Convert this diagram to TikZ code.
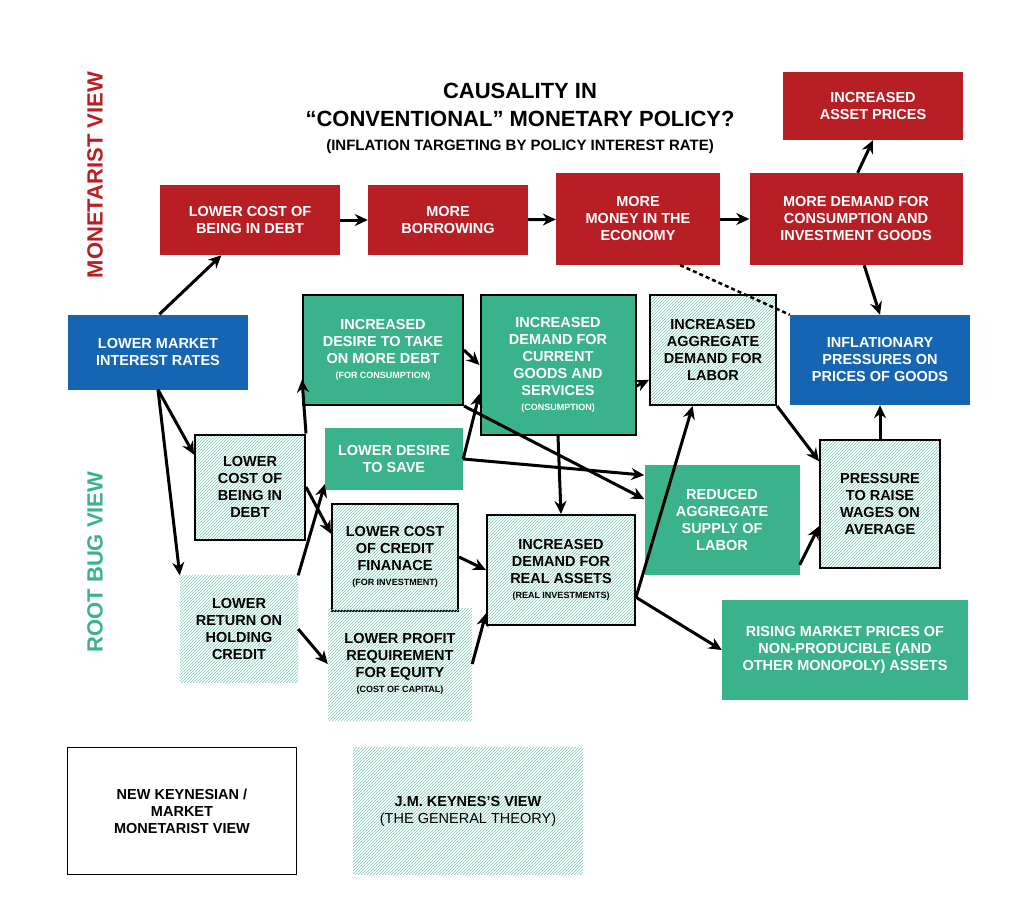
\documentclass[tikz,border=0pt]{standalone}
\usepackage{fontspec}
\setmainfont{Liberation Sans}
\usetikzlibrary{arrows.meta,patterns}
\definecolor{mred}{HTML}{B71F25}
\definecolor{mblue}{HTML}{1565B2}
\definecolor{rgreen}{HTML}{3AB28C}
\definecolor{hgreen}{HTML}{7CCBB1}
\tikzset{
  box/.style={align=center,inner sep=2pt,font=\fontsize{14.5}{17}\selectfont\bfseries},
  redbox/.style={box,fill=mred,text=white},
  bluebox/.style={box,fill=mblue,text=white},
  greenbox/.style={box,fill=rgreen,text=white},
  greenline/.style={greenbox,draw=black,line width=2pt},
  hatch/.style={box,pattern={north east lines},pattern color=hgreen},
  hatchline/.style={hatch,draw=black,line width=2pt},
  arr/.style={-{Stealth[length=13pt,width=12pt]},line width=3pt},
}
\begin{document}
\begin{tikzpicture}[x=1pt,y=-1pt]
  \useasboundingbox (0,0) rectangle (1024,921);
  % title
  \node[box,font=\fontsize{22}{28}\selectfont\bfseries] (title) at (520,105) {CAUSALITY IN\\``CONVENTIONAL'' MONETARY POLICY?};
  \node[box,font=\fontsize{15}{17}\selectfont\bfseries] (subtitle) at (520,147) {(INFLATION TARGETING BY POLICY INTEREST RATE)};
  \node[box,rotate=90,text=mred,font=\fontsize{22}{26}\selectfont\bfseries] (monview) at (95,175) {MONETARIST VIEW};
  \node[box,rotate=90,text=rgreen,font=\fontsize{22}{26}\selectfont\bfseries] (rootview) at (95,562) {ROOT BUG VIEW};
  % monetarist row
  \node[redbox,minimum width=180,minimum height=70] (rcost) at (250,220) {LOWER COST OF\\BEING IN DEBT};
  \node[redbox,minimum width=160,minimum height=70] (borrow) at (448,220) {MORE\\BORROWING};
  \node[redbox,minimum width=164,minimum height=92] (money) at (638,219) {MORE\\MONEY IN THE\\ECONOMY};
  \node[redbox,minimum width=213,minimum height=92] (demand) at (856,219) {MORE DEMAND FOR\\CONSUMPTION AND\\INVESTMENT GOODS};
  \node[redbox,minimum width=180,minimum height=68] (asset) at (873,106) {INCREASED\\ASSET PRICES};
  \node[bluebox,minimum width=180,minimum height=75] (rates) at (158,352) {LOWER MARKET\\INTEREST RATES};
  \node[bluebox,minimum width=180,minimum height=90] (inflation) at (880,360) {INFLATIONARY\\PRESSURES ON\\PRICES OF GOODS};
  % root bug view
  \node[greenline,minimum width=160,minimum height=110] (desire) at (383,350) {INCREASED\\DESIRE TO TAKE\\ON MORE DEBT\\[-2pt]{\fontsize{9}{11}\selectfont (FOR CONSUMPTION)}};
  \node[greenline,minimum width=155,minimum height=140] (current) at (558,365) {INCREASED\\DEMAND FOR\\CURRENT\\GOODS AND\\SERVICES\\[-2pt]{\fontsize{9}{11}\selectfont (CONSUMPTION)}};
  \node[hatchline,minimum width=126,minimum height=110] (labor) at (713,350) {INCREASED\\AGGREGATE\\DEMAND FOR\\LABOR};
  \node[hatchline,minimum width=110,minimum height=105] (hcost) at (250,487) {LOWER\\COST OF\\BEING IN\\DEBT};
  \node[greenbox,minimum width=138,minimum height=62] (save) at (394,459) {LOWER DESIRE\\TO SAVE};
  \node[greenbox,minimum width=155,minimum height=110] (supply) at (722,520) {REDUCED\\AGGREGATE\\SUPPLY OF\\LABOR};
  \node[hatchline,minimum width=120,minimum height=128] (wages) at (880,504) {PRESSURE\\TO RAISE\\WAGES ON\\AVERAGE};
  \node[hatchline,minimum width=126,minimum height=107] (credit) at (395,557) {LOWER COST\\OF CREDIT\\FINANACE\\[-2pt]{\fontsize{9}{11}\selectfont (FOR INVESTMENT)}};
  \node[hatchline,minimum width=148,minimum height=110] (real) at (561,570) {INCREASED\\DEMAND FOR\\REAL ASSETS\\[-2pt]{\fontsize{9}{11}\selectfont (REAL INVESTMENTS)}};
  \node[hatch,minimum width=118,minimum height=107] (hreturn) at (239,629) {LOWER\\RETURN ON\\HOLDING\\CREDIT};
  \node[hatch,minimum width=144,minimum height=112] (profit) at (400,664) {LOWER PROFIT\\REQUIREMENT\\FOR EQUITY\\[-2pt]{\fontsize{9}{11}\selectfont (COST OF CAPITAL)}};
  \node[greenbox,minimum width=246,minimum height=100] (rising) at (845,650) {RISING MARKET PRICES OF\\NON-PRODUCIBLE (AND\\OTHER MONOPOLY) ASSETS};
  % legend
  \node[box,draw=black,line width=1.5pt,minimum width=229,minimum height=127] (legnk) at (182,811) {NEW KEYNESIAN /\\MARKET\\MONETARIST VIEW};
  \node[hatch,minimum width=230,minimum height=127] (legjm) at (468,811) {J.M. KEYNES'S VIEW\\{\mdseries (THE GENERAL THEORY)}};
  % monetarist arrows
  \draw[arr] (rates.88) -- (rcost.-129);
  \draw[arr] (rcost) -- (borrow);
  \draw[arr] (borrow) -- (money);
  \draw[arr] (money) -- (demand);
  \draw[arr] (demand.88) -- (asset.south);
  \draw[arr] (demand.-80) -- (inflation.north);
  \draw[dash pattern=on 4pt off 3pt,line width=2.5pt] (money.south east) ++(-40,0) coordinate (mfoot) -- (inflation.north west);
  % root bug arrows
  \draw[arr] (rates.south) -- (hcost.150);
  \draw[arr] (rates.south) -- (hreturn.north west);
  \draw[arr] (hcost.north east) -- (desire.-160);
  \draw[arr] (hcost.east) -- (credit.160);
  \draw[arr] (hreturn.north east) -- (save.-160);
  \draw[arr] (hreturn.east) -- (profit.west);
  \draw[arr] (desire.east) -- (current.west);
  \draw[arr] (save.east) -- (current.-160);
  \draw[arr] (save.east) -- (supply.150);
  \draw[arr] (desire.south east) -- (supply.165);
  \draw[arr] (current.south) -- (real.north);
  \draw[arr] (credit.east) -- (real.west);
  \draw[arr] (profit.east) -- (real.-150);
  \draw[arr] (current.-15) -- (labor.-155);
  \draw[arr] (real.-20) -- (labor.-110);
  \draw[arr] (real.-20) -- (rising.west);
  \draw[arr] (labor.south east) -- (wages.145);
  \draw[arr] (supply.-30) -- (wages.-160);
  \draw[arr] (wages.north) -- (inflation.south);
\end{tikzpicture}
\end{document}
